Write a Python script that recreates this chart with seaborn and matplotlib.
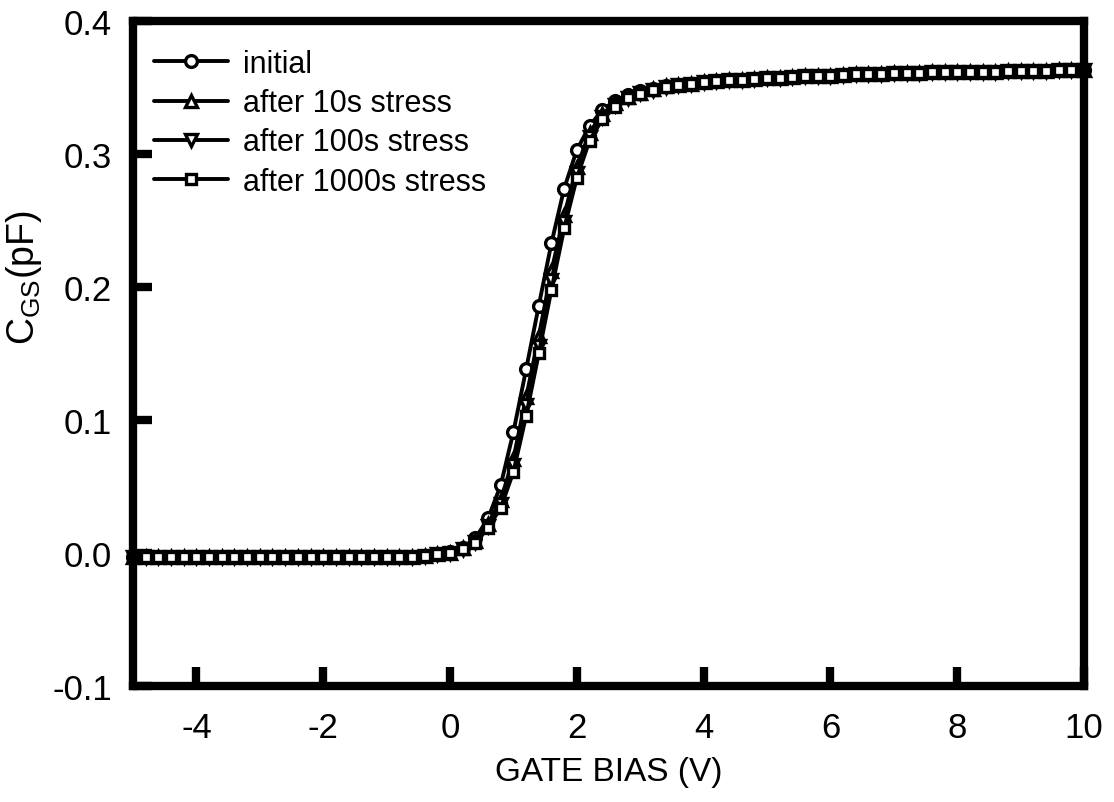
import pandas as pd
import seaborn as sns
import matplotlib.pyplot as plt

sns.set_style("ticks")
plt.rcParams['font.family'] = ['Liberation Sans', 'DejaVu Sans']
plt.rcParams['mathtext.fontset'] = 'custom'
plt.rcParams['mathtext.rm'] = 'Liberation Sans'
plt.rcParams['mathtext.it'] = 'Liberation Sans:italic'
plt.rcParams['axes.unicode_minus'] = False
plt.rcParams['text.color'] = 'black'
plt.rcParams['axes.labelcolor'] = 'black'

# gate bias sweep (V)
gate_bias = [-5.0, -4.8, -4.6, -4.4, -4.2, -4.0, -3.8, -3.6, -3.4, -3.2,
             -3.0, -2.8, -2.6, -2.4, -2.2, -2.0, -1.8, -1.6, -1.4, -1.2,
             -1.0, -0.8, -0.6, -0.4, -0.2, 0.0, 0.2, 0.4, 0.6, 0.8,
             1.0, 1.2, 1.4, 1.6, 1.8, 2.0, 2.2, 2.4, 2.6, 2.8,
             3.0, 3.2, 3.4, 3.6, 3.8, 4.0, 4.2, 4.4, 4.6, 4.8,
             5.0, 5.2, 5.4, 5.6, 5.8, 6.0, 6.2, 6.4, 6.6, 6.8,
             7.0, 7.2, 7.4, 7.6, 7.8, 8.0, 8.2, 8.4, 8.6, 8.8,
             9.0, 9.2, 9.4, 9.6, 9.8, 10.0]

# -5.0 .. -0.6 V, all curves overlap
off_state = [-0.003, -0.003, -0.003, -0.003, -0.003, -0.003, -0.003, -0.003,
             -0.003, -0.003, -0.003, -0.003, -0.003, -0.003, -0.003, -0.003,
             -0.003, -0.003, -0.003, -0.003, -0.003, -0.003, -0.003]
# 4.2 .. 10.0 V, all curves overlap
on_state = [0.355, 0.3555, 0.356, 0.3565, 0.357, 0.3575, 0.358, 0.3585, 0.359, 0.359,
            0.3595, 0.360, 0.360, 0.3605, 0.361, 0.361, 0.361, 0.3615, 0.3615, 0.362,
            0.362, 0.362, 0.362, 0.3625, 0.3625, 0.3625, 0.3625, 0.363, 0.363, 0.363]

# -0.4 .. 4.0 V
rise_initial = [-0.002, -0.001, 0.001, 0.004, 0.011, 0.026, 0.051, 0.091, 0.138, 0.186,
                0.233, 0.274, 0.303, 0.321, 0.333, 0.340, 0.344, 0.347, 0.349, 0.351,
                0.352, 0.353, 0.354]
rise_10s = [-0.002, -0.001, 0.000, 0.0035, 0.009, 0.022, 0.040, 0.071, 0.117, 0.163,
            0.212, 0.254, 0.290, 0.316, 0.330, 0.338, 0.343, 0.346, 0.349, 0.351,
            0.352, 0.353, 0.354]
rise_100s = [-0.002, -0.001, 0.000, 0.003, 0.008, 0.020, 0.037, 0.066, 0.111, 0.156,
             0.205, 0.249, 0.286, 0.313, 0.328, 0.337, 0.342, 0.346, 0.348, 0.350,
             0.352, 0.353, 0.354]
rise_1000s = [-0.002, -0.001, 0.000, 0.003, 0.0075, 0.019, 0.034, 0.061, 0.103, 0.150,
              0.198, 0.244, 0.282, 0.310, 0.326, 0.335, 0.342, 0.345, 0.348, 0.350,
              0.352, 0.353, 0.354]

labels = ['initial', 'after 10s stress', 'after 100s stress', 'after 1000s stress']
markers = ['o', '^', 'v', 's']
msizes = [8.5, 9, 9, 7.5]

series = [off_state + r + on_state for r in (rise_initial, rise_10s, rise_100s, rise_1000s)]

fig = plt.figure(figsize=(11.14, 8.03), dpi=100)
ax = fig.add_axes([0.1194, 0.1445, 0.8537, 0.8281])

for cgs, lab, mk, ms in zip(series, labels, markers, msizes):
    df = pd.DataFrame({'bias': gate_bias, 'cgs': cgs})
    sns.lineplot(data=df, x='bias', y='cgs', ax=ax, color='black', linewidth=2.8,
                 marker=mk, markersize=ms, markerfacecolor='white',
                 markeredgecolor='black', markeredgewidth=2.4, label=lab,
                 legend=False, clip_on=False, zorder=3)

ax.set_xlim(-5, 10)
ax.set_ylim(-0.1, 0.4)
ax.set_xticks([-4, -2, 0, 2, 4, 6, 8, 10])
ax.set_yticks([-0.1, 0.0, 0.1, 0.2, 0.3, 0.4])
ax.set_yticklabels(['-0.1', '0.0', '0.1', '0.2', '0.3', '0.4'])

for s in ax.spines.values():
    s.set_linewidth(6)
    s.set_color('black')
    s.set_zorder(4)
ax.tick_params(direction='in', length=14, width=6, top=False, right=False,
               labelsize=25, color='black', labelcolor='black')
ax.tick_params(axis='x', pad=18)
ax.tick_params(axis='y', pad=15)

ax.set_xlabel('GATE BIAS (V)', fontsize=24)
ax.xaxis.set_label_coords(0.5, -0.105)
ax.set_ylabel(r'C$_{\mathrm{GS}}$(pF)', fontsize=27)
ax.yaxis.set_label_coords(-0.094, 0.615)

ax.legend(loc='upper left', frameon=False, fontsize=22, handlelength=2.4,
          handletextpad=0.5, labelspacing=0.3, borderaxespad=0.3,
          bbox_to_anchor=(0.0, 0.99))

plt.savefig('out.png', dpi=100)
